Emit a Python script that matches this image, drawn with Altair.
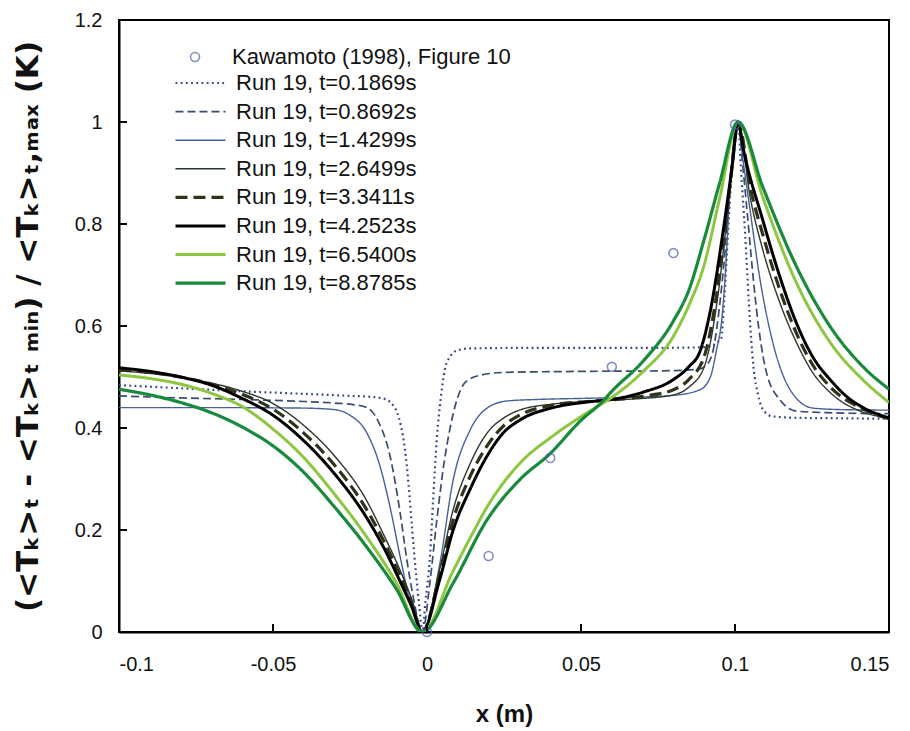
import altair as alt
import pandas as pd

FONT = "Liberation Sans, Arial, sans-serif"
TITLE_FONT = "DejaVu Sans, Liberation Sans, sans-serif"

# ---------------- data ----------------
exp_label = "Kawamoto (1998), Figure 10"
exp_x = [0.0, 0.02, 0.04, 0.06, 0.08, 0.1]
exp_y = [0.0, 0.149, 0.341, 0.52, 0.743, 0.995]

series_labels = [
    "Run 19, t=0.1869s",
    "Run 19, t=0.8692s",
    "Run 19, t=1.4299s",
    "Run 19, t=2.6499s",
    "Run 19, t=3.3411s",
    "Run 19, t=4.2523s",
    "Run 19, t=6.5400s",
    "Run 19, t=8.8785s",
]

s1_x = [-0.1, -0.08, -0.06, -0.04, -0.025, -0.018, -0.0143, -0.0115, -0.0097, -0.0085, -0.0072,
        -0.006, -0.0048, -0.0035, -0.0025, -0.0015, -0.0005, 0.001, 0.002, 0.0032, 0.0045, 0.0058,
        0.0075, 0.0097, 0.014, 0.03, 0.05, 0.07, 0.088, 0.092, 0.094, 0.0955, 0.0965, 0.0977, 0.0988,
        0.0998, 0.101, 0.102, 0.1033, 0.1045, 0.106, 0.1075, 0.109, 0.112, 0.12, 0.135, 0.15]
s1_y = [0.484, 0.478, 0.472, 0.467, 0.463, 0.461, 0.458, 0.448, 0.43, 0.405, 0.36,
        0.29, 0.2, 0.11, 0.05, 0.0, 0.06, 0.15, 0.26, 0.38, 0.46, 0.515,
        0.54, 0.552, 0.556, 0.557, 0.557, 0.557, 0.558, 0.56, 0.567, 0.575, 0.65, 0.78, 0.89,
        0.955, 1.0, 0.9, 0.78, 0.645, 0.52, 0.465, 0.437, 0.423, 0.42, 0.419, 0.418]

s2_x = [-0.1, -0.08, -0.06, -0.04, -0.03, -0.024, -0.0195, -0.016, -0.012, -0.0088, -0.0065,
        -0.0045, -0.0015, 0.001, 0.0032, 0.0055, 0.0075, 0.0097, 0.0125, 0.017, 0.025, 0.05, 0.075,
        0.088, 0.091, 0.093, 0.095, 0.0974, 0.0994, 0.101, 0.1025, 0.1039, 0.1055, 0.107, 0.11,
        0.1146, 0.12, 0.13, 0.15]
s2_y = [0.463, 0.459, 0.456, 0.452, 0.449, 0.446, 0.44, 0.415, 0.345, 0.237, 0.14,
        0.07, 0.0, 0.1, 0.22, 0.33, 0.40, 0.455, 0.49, 0.503, 0.509, 0.511, 0.512,
        0.515, 0.525, 0.555, 0.64, 0.79, 0.945, 1.0, 0.915, 0.827, 0.72, 0.631, 0.514,
        0.455, 0.433, 0.43, 0.428]

s3_x = [-0.1, -0.07, -0.04, -0.03, -0.025, -0.0195, -0.0155, -0.012, -0.0088, -0.0055, -0.0015,
        0.0042, 0.0085, 0.014, 0.0195, 0.026, 0.036, 0.05, 0.065, 0.08, 0.0886, 0.092, 0.094,
        0.0958, 0.097, 0.0984, 0.101, 0.1025, 0.1049, 0.108, 0.1123, 0.1179, 0.1253, 0.135, 0.15]
s3_y = [0.44, 0.44, 0.439, 0.436, 0.425, 0.39, 0.33, 0.245, 0.15, 0.06, 0.0,
        0.135, 0.298, 0.396, 0.439, 0.453, 0.456, 0.458, 0.46, 0.464, 0.475, 0.5, 0.553,
        0.618, 0.716, 0.88, 1.0, 0.93, 0.827, 0.696, 0.567, 0.475, 0.439, 0.436, 0.435]

s4_x = [-0.1, -0.09, -0.08, -0.07, -0.06, -0.05, -0.04, -0.03, -0.02, -0.014, -0.0088, -0.005,
        -0.0015, 0.004, 0.0085, 0.014, 0.0195, 0.025, 0.03, 0.041, 0.052, 0.06, 0.07, 0.08, 0.085,
        0.09, 0.094, 0.097, 0.099, 0.101, 0.105, 0.109, 0.1146, 0.12, 0.1253, 0.131, 0.1416, 0.15]
s4_y = [0.512, 0.507, 0.499, 0.488, 0.472, 0.448, 0.405, 0.345, 0.262, 0.19, 0.122, 0.065,
        0.0, 0.12, 0.24, 0.33, 0.39, 0.42, 0.435, 0.447, 0.452, 0.455, 0.458, 0.465, 0.48,
        0.52, 0.64, 0.79, 0.91, 1.0, 0.85, 0.75, 0.645, 0.567, 0.508, 0.469, 0.431, 0.42]

s5_x = [-0.1, -0.09, -0.08, -0.07, -0.06, -0.05, -0.04, -0.03, -0.02, -0.014, -0.0088, -0.005,
        -0.0015, 0.004, 0.0085, 0.014, 0.0195, 0.025, 0.03, 0.041, 0.052, 0.06, 0.07, 0.08, 0.085,
        0.09, 0.094, 0.097, 0.099, 0.101, 0.105, 0.109, 0.1146, 0.12, 0.1253, 0.131, 0.1416, 0.15]
s5_y = [0.514, 0.509, 0.5, 0.486, 0.466, 0.437, 0.39, 0.327, 0.244, 0.178, 0.112, 0.058,
        0.0, 0.11, 0.22, 0.305, 0.365, 0.405, 0.425, 0.445, 0.452, 0.455, 0.462, 0.475, 0.495,
        0.54, 0.66, 0.8, 0.91, 1.0, 0.87, 0.78, 0.67, 0.585, 0.523, 0.48, 0.437, 0.418]

s6_x = [-0.1, -0.09, -0.08, -0.07, -0.06, -0.05, -0.04, -0.03, -0.02, -0.014, -0.0088, -0.005,
        -0.0015, 0.004, 0.0085, 0.014, 0.0195, 0.0247, 0.03, 0.041, 0.052, 0.06, 0.07, 0.08, 0.085,
        0.0886, 0.092, 0.096, 0.099, 0.101, 0.1026, 0.109, 0.1146, 0.12, 0.1253, 0.131, 0.1364,
        0.1416, 0.15]
s6_y = [0.518, 0.511, 0.5, 0.484, 0.458, 0.425, 0.375, 0.31, 0.228, 0.165, 0.1, 0.05,
        0.0, 0.1, 0.2, 0.28, 0.345, 0.39, 0.415, 0.44, 0.451, 0.456, 0.47, 0.495, 0.52,
        0.55, 0.63, 0.78, 0.91, 1.0, 0.95, 0.808, 0.696, 0.605, 0.539, 0.494, 0.461,
        0.44, 0.42]

s7_x = [-0.1, -0.09, -0.08, -0.07, -0.06, -0.05, -0.04, -0.03, -0.02, -0.01, -0.0015, 0.0085,
        0.0145, 0.0195, 0.03, 0.041, 0.052, 0.06, 0.07, 0.08, 0.085, 0.09, 0.095, 0.101, 0.109,
        0.12, 0.131, 0.1416, 0.15]
s7_y = [0.504, 0.497, 0.486, 0.468, 0.442, 0.398, 0.342, 0.27, 0.19, 0.097, 0.0, 0.12,
        0.19, 0.245, 0.33, 0.385, 0.43, 0.46, 0.51, 0.58, 0.64, 0.72, 0.85, 1.0, 0.853,
        0.684, 0.567, 0.494, 0.45]

s8_x = [-0.1, -0.09, -0.08, -0.07, -0.06, -0.05, -0.04, -0.03, -0.02, -0.01, -0.0015, 0.0085,
        0.0195, 0.03, 0.04, 0.05, 0.057, 0.06, 0.07, 0.08, 0.085, 0.09, 0.095, 0.101, 0.109,
        0.12, 0.131, 0.1416, 0.15]
s8_y = [0.476, 0.465, 0.45, 0.43, 0.402, 0.365, 0.313, 0.245, 0.17, 0.085, 0.0, 0.096,
        0.22, 0.298, 0.35, 0.415, 0.452, 0.472, 0.53, 0.61, 0.67, 0.77, 0.88, 1.0, 0.873,
        0.716, 0.598, 0.52, 0.476]

x_ticks = [-0.1, -0.05, 0.0, 0.05, 0.1, 0.15]
x_tick_labels = ["-0.1", "-0.05", "0", "0.05", "0.1", "0.15"]
y_ticks = [0.0, 0.2, 0.4, 0.6, 0.8, 1.0, 1.2]
y_tick_labels = ["0", "0.2", "0.4", "0.6", "0.8", "1", "1.2"]

# ---------------- styles ----------------
line_colors = ["#34448a", "#3a4c70", "#46609a", "#2b372d", "#30331a", "#000000", "#8dc63f", "#178a3c"]
line_dashes = [[1.8, 3.4], [8, 4], [1, 0], [1, 0], [12, 6], [1, 0], [1, 0], [1, 0]]
line_widths = [2.2, 1.7, 1.4, 1.4, 3.2, 3.0, 3.0, 3.2]
point_color = "#4f5db0"

xs = [s1_x, s2_x, s3_x, s4_x, s5_x, s6_x, s7_x, s8_x]
ys = [s1_y, s2_y, s3_y, s4_y, s5_y, s6_y, s7_y, s8_y]
rows = []
for lab, sx, sy in zip(series_labels, xs, ys):
    for a, b in zip(sx, sy):
        rows.append({"x": a, "y": b, "series": lab})
df_lines = pd.DataFrame(rows)
df_pts = pd.DataFrame({"x": exp_x, "y": exp_y, "src": [exp_label] * len(exp_x)})

x_label_expr = "[" + ",".join("'%s'" % s for s in x_tick_labels) + "][round((datum.value + 0.1) / 0.05)]"
y_label_expr = "[" + ",".join("'%s'" % s for s in y_tick_labels) + "][round(datum.value / 0.2)]"

y_title = "(<Tₖ>ₜ - <Tₖ>ₜ ₘᵢₙ) / <Tₖ>ₜ,ₘₐₓ (K)"

x_enc = alt.X("x:Q", title="x (m)",
              scale=alt.Scale(domain=[-0.1, 0.15], nice=False, zero=False),
              axis=alt.Axis(values=x_ticks, labelExpr=x_label_expr, labelPadding=22,
                            titlePadding=28, titleFontSize=24))
y_enc = alt.Y("y:Q", title=y_title,
              scale=alt.Scale(domain=[0, 1.2], nice=False),
              axis=alt.Axis(values=y_ticks, labelExpr=y_label_expr, labelPadding=17,
                            titlePadding=30, titleFont=TITLE_FONT, titleFontSize=31))

line_legend = alt.Legend(title=None, orient="none", legendX=54.5, legendY=53,
                         symbolType="stroke", symbolSize=2500, labelOffset=8.5,
                         labelFont=FONT, labelFontSize=22, labelColor="#111", labelLimit=0,
                         clipHeight=20, rowPadding=6.6, padding=0)

lines = alt.Chart(df_lines).mark_line(interpolate="monotone", clip=True).encode(
    x=x_enc,
    y=y_enc,
    color=alt.Color("series:N", scale=alt.Scale(domain=series_labels, range=line_colors),
                    legend=line_legend),
    strokeDash=alt.StrokeDash("series:N", scale=alt.Scale(domain=series_labels, range=line_dashes),
                              legend=line_legend),
    strokeWidth=alt.StrokeWidth("series:N",
                                scale=alt.Scale(type="ordinal", domain=series_labels, range=line_widths),
                                legend=line_legend),
)

pts = alt.Chart(df_pts).mark_point(filled=False, size=80, strokeWidth=1.6, color=point_color).encode(
    x=x_enc,
    y=y_enc,
    shape=alt.Shape("src:N", scale=alt.Scale(domain=[exp_label], range=["circle"]),
                    legend=alt.Legend(title=None, orient="none", legendX=65, legendY=27,
                                      symbolSize=80, symbolStrokeColor=point_color,
                                      symbolFillColor="transparent", symbolStrokeWidth=1.6,
                                      labelOffset=26, labelFont=FONT, labelFontSize=22,
                                      labelColor="#111", labelLimit=0, clipHeight=20,
                                      padding=0)),
)

xt = alt.Chart(pd.DataFrame({"x": x_ticks})).mark_rule(color="black", strokeWidth=2).encode(
    x=x_enc, y=alt.value(612), y2=alt.value(604))
yt = alt.Chart(pd.DataFrame({"y": y_ticks})).mark_rule(color="black", strokeWidth=2).encode(
    y=y_enc, x=alt.value(0), x2=alt.value(8))

chart = alt.layer(lines, pts, xt, yt).properties(
    width=770, height=612,
    padding={"left": 119, "top": 20, "right": 21, "bottom": 99},
    autosize=alt.AutoSizeParams(type="none"),
).configure_view(
    stroke="black", strokeWidth=2
).configure_axis(
    domainColor="black", domainWidth=2, ticks=False, grid=False,
    labelFont=FONT, labelFontSize=20, labelColor="#111",
    titleFont=FONT, titleFontWeight="bold", titleColor="#111",
)

chart.save("out.html", embed_options={"renderer": "svg", "actions": False})
